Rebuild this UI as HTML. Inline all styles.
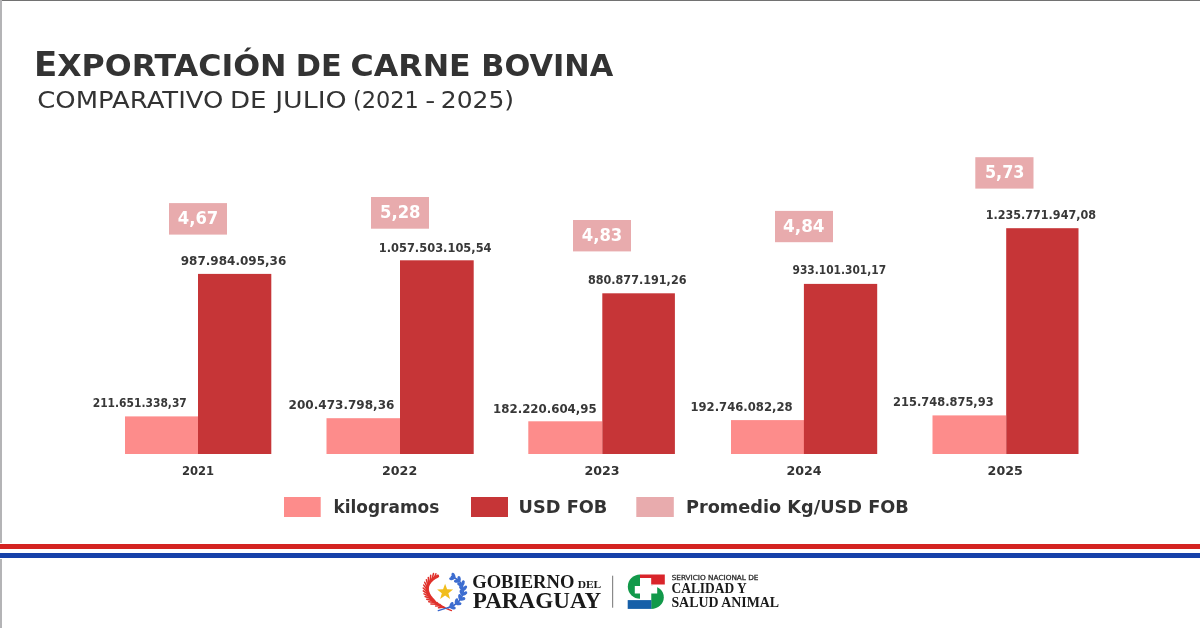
<!DOCTYPE html>
<html lang="es">
<head>
<meta charset="utf-8">
<title>Exportación de carne bovina</title>
<style>
html,body{margin:0;padding:0;background:#fff;}
body{width:1200px;height:628px;overflow:hidden;position:relative;}
svg{display:block;position:absolute;left:0;top:0;}
.t{font-family:"DejaVu Sans","Liberation Sans",sans-serif;}
.v{font-family:"DejaVu Sans","Liberation Sans",sans-serif;font-weight:bold;fill:#383838;font-size:12.4px;}
.y{font-family:"DejaVu Sans","Liberation Sans",sans-serif;font-weight:bold;fill:#333;font-size:12.3px;}
.p{font-family:"DejaVu Sans","Liberation Sans",sans-serif;font-weight:bold;fill:#fff;font-size:18px;}
.l{font-family:"DejaVu Sans","Liberation Sans",sans-serif;font-weight:bold;fill:#333;font-size:17.6px;}
.sr{font-family:"Liberation Serif",serif;font-weight:bold;fill:#1a1a1a;}
</style>
</head>
<body>
<svg width="1200" height="628" viewBox="0 0 1200 628">
  <!-- frame -->
  <rect x="0" y="0" width="1200" height="628" fill="#fff"/>
  <rect x="0" y="0" width="1200" height="1" fill="#727272"/>
  <rect x="0" y="0" width="2" height="628" fill="#b4b4b6"/>

  <!-- title -->
  <g font-family="DejaVu Sans, Liberation Sans, sans-serif" fill="#333">
  <g font-weight="bold" font-size="30.7">
  <text x="33.9" y="75.8" textLength="252.7" lengthAdjust="spacingAndGlyphs"><tspan font-size="33">E</tspan>XPORTACIÓN</text>
  <text x="295.8" y="75.8" textLength="45.9" lengthAdjust="spacingAndGlyphs">DE</text>
  <text x="350.6" y="75.8" textLength="120.1" lengthAdjust="spacingAndGlyphs">CARNE</text>
  <text x="481.3" y="75.8" textLength="131.9" lengthAdjust="spacingAndGlyphs">BOVINA</text>
  </g>
  <g font-size="22.9">
  <text x="37.3" y="107.5" textLength="186.1" lengthAdjust="spacingAndGlyphs">COMPARATIVO</text>
  <text x="230" y="107.5" textLength="36.5" lengthAdjust="spacingAndGlyphs">DE</text>
  <text x="275.2" y="107.5" textLength="71.5" lengthAdjust="spacingAndGlyphs">JULIO</text>
  <text x="352.9" y="107.5" textLength="65.9" lengthAdjust="spacingAndGlyphs">(2021</text>
  <text x="425.2" y="107.5" textLength="10" lengthAdjust="spacingAndGlyphs">-</text>
  <text x="440.8" y="107.5" textLength="73.3" lengthAdjust="spacingAndGlyphs">2025)</text>
  </g>
  </g>

  <!-- bars -->
  <g fill="#fd8c8b">
    <rect x="125" y="416.4" width="73" height="37.6"/>
    <rect x="326.5" y="418.2" width="73.5" height="35.8"/>
    <rect x="528.3" y="421.3" width="74" height="32.7"/>
    <rect x="731" y="420.1" width="73" height="33.9"/>
    <rect x="932.5" y="415.4" width="73.5" height="38.6"/>
  </g>
  <g fill="#c63537">
    <rect x="198" y="273.9" width="73.3" height="180.1"/>
    <rect x="400" y="260.3" width="73.7" height="193.7"/>
    <rect x="602.3" y="293.3" width="72.6" height="160.7"/>
    <rect x="803.9" y="283.9" width="73.3" height="170.1"/>
    <rect x="1006.2" y="228.2" width="72.3" height="225.8"/>
  </g>

  <!-- value labels dark -->
  <text class="v" x="180.7" y="264.8" textLength="105.6" lengthAdjust="spacingAndGlyphs">987.984.095,36</text>
  <text class="v" x="378.7" y="252.1" textLength="112.9" lengthAdjust="spacingAndGlyphs">1.057.503.105,54</text>
  <text class="v" x="587.9" y="284.3" textLength="98.6" lengthAdjust="spacingAndGlyphs">880.877.191,26</text>
  <text class="v" x="792.5" y="274.3" textLength="93.6" lengthAdjust="spacingAndGlyphs">933.101.301,17</text>
  <text class="v" x="985.7" y="219.2" textLength="110.3" lengthAdjust="spacingAndGlyphs">1.235.771.947,08</text>

  <!-- value labels pink -->
  <text class="v" x="92.7" y="406.9" textLength="94.1" lengthAdjust="spacingAndGlyphs">211.651.338,37</text>
  <text class="v" x="288.6" y="408.7" textLength="105.8" lengthAdjust="spacingAndGlyphs">200.473.798,36</text>
  <text class="v" x="493.1" y="412.75" textLength="103.6" lengthAdjust="spacingAndGlyphs">182.220.604,95</text>
  <text class="v" x="690.4" y="411" textLength="102.2" lengthAdjust="spacingAndGlyphs">192.746.082,28</text>
  <text class="v" x="893.1" y="405.9" textLength="100.5" lengthAdjust="spacingAndGlyphs">215.748.875,93</text>

  <!-- promedio boxes -->
  <g fill="#e8abad">
    <rect x="169" y="203.1" width="58" height="31.5"/>
    <rect x="371" y="197" width="58" height="31.7"/>
    <rect x="573" y="220" width="58" height="31.4"/>
    <rect x="775" y="210.9" width="58" height="31.3"/>
    <rect x="975.3" y="157.2" width="58.2" height="31.4"/>
  </g>
  <text class="p" x="198" y="224" text-anchor="middle" textLength="40.5" lengthAdjust="spacingAndGlyphs">4,67</text>
  <text class="p" x="400.3" y="218" text-anchor="middle" textLength="40.5" lengthAdjust="spacingAndGlyphs">5,28</text>
  <text class="p" x="602" y="240.8" text-anchor="middle" textLength="40.5" lengthAdjust="spacingAndGlyphs">4,83</text>
  <text class="p" x="803.8" y="231.5" text-anchor="middle" textLength="41.5" lengthAdjust="spacingAndGlyphs">4,84</text>
  <text class="p" x="1004.7" y="178" text-anchor="middle" textLength="39.5" lengthAdjust="spacingAndGlyphs">5,73</text>

  <!-- years -->
  <text class="y" x="198" y="474.5" text-anchor="middle" textLength="32.2" lengthAdjust="spacingAndGlyphs">2021</text>
  <text class="y" x="399.6" y="474.5" text-anchor="middle" textLength="35.2" lengthAdjust="spacingAndGlyphs">2022</text>
  <text class="y" x="602" y="474.5" text-anchor="middle" textLength="35.2" lengthAdjust="spacingAndGlyphs">2023</text>
  <text class="y" x="804" y="474.5" text-anchor="middle" textLength="35.2" lengthAdjust="spacingAndGlyphs">2024</text>
  <text class="y" x="1005.2" y="474.5" text-anchor="middle" textLength="35.2" lengthAdjust="spacingAndGlyphs">2025</text>

  <!-- legend -->
  <rect x="284" y="497" width="36.7" height="20" fill="#fd8c8b"/>
  <text class="l" x="333.4" y="512.6" textLength="105.9" lengthAdjust="spacingAndGlyphs">kilogramos</text>
  <rect x="471" y="497" width="37" height="20" fill="#c63537"/>
  <text class="l" x="518.6" y="512.8" textLength="88.8" lengthAdjust="spacingAndGlyphs">USD FOB</text>
  <rect x="636.3" y="497" width="37.5" height="20" fill="#e8abad"/>
  <text class="l" x="686" y="512.8" textLength="222.8" lengthAdjust="spacingAndGlyphs">Promedio Kg/USD FOB</text>

  <!-- stripes -->
  <rect x="0" y="543" width="1200" height="16" fill="#fff"/>
  <rect x="0" y="544" width="1200" height="5" fill="#d42321"/>
  <rect x="0" y="553" width="1200" height="5" fill="#1641a9"/>

  <!-- footer: emblem -->
  <!--EMB-->
  <g id="emblem">
    <g fill="none" stroke="#e0312b" stroke-linecap="round"><path d="M444.5 607.8C427 601 420 585 438 575.5" stroke-width="2"/><path d="M443.0 607.2l-4.5 0.6M443.0 607.2l-3.3 -3.0M440.1 605.8l-4.5 0.2M440.1 605.8l-3.1 -3.3M437.4 604.2l-6.5 -0.2M437.4 604.2l-4.0 -5.1M435.1 602.5l-6.4 -0.8M435.1 602.5l-3.5 -5.4M433.0 600.7l-6.3 -1.5M433.0 600.7l-3.0 -5.8M431.2 598.7l-6.1 -2.2M431.2 598.7l-2.3 -6.1M429.8 596.7l-5.8 -2.9M429.8 596.7l-1.5 -6.3M428.6 594.6l-5.3 -3.7M428.6 594.6l-0.6 -6.5M427.9 592.5l-4.7 -4.5M427.9 592.5l0.4 -6.5M427.5 590.3l-3.8 -5.2M427.5 590.3l1.5 -6.3M427.5 588.1l-2.8 -5.9M427.5 588.1l2.7 -5.9M428.0 586.0l-1.6 -6.3M428.0 586.0l3.7 -5.3M428.8 583.9l-0.5 -6.5M428.8 583.9l4.7 -4.5M430.1 581.8l0.6 -6.5M430.1 581.8l5.4 -3.7M431.9 579.8l1.6 -6.3M431.9 579.8l5.9 -2.8M434.2 577.9l1.7 -4.2M434.2 577.9l4.3 -1.4" stroke-width="1.5"/></g>
    <path d="M441,606.3 L451.5,610.6" stroke="#e0312b" stroke-width="1.3" stroke-linecap="round"/>
    <g fill="none" stroke="#3766cc" stroke-linecap="round"><path d="M448.5 607.8C466 601 469 583 451.5 576.5" stroke-width="1.6"/></g>
    <g fill="#3d6dd0"><ellipse cx="452.8" cy="607.6" rx="3" ry="1.7" transform="rotate(16 452.8 607.6)"/><ellipse cx="451.5" cy="604.8" rx="3" ry="1.7" transform="rotate(-66 451.5 604.8)"/><ellipse cx="458.5" cy="603.6" rx="3" ry="1.7" transform="rotate(2 458.5 603.6)"/><ellipse cx="456.5" cy="601.2" rx="3" ry="1.7" transform="rotate(-80 456.5 601.2)"/><ellipse cx="462.4" cy="598.8" rx="3" ry="1.7" transform="rotate(-13 462.4 598.8)"/><ellipse cx="459.9" cy="597.0" rx="3" ry="1.7" transform="rotate(-95 459.9 597.0)"/><ellipse cx="464.6" cy="593.6" rx="3" ry="1.7" transform="rotate(-31 464.6 593.6)"/><ellipse cx="461.6" cy="592.6" rx="3" ry="1.7" transform="rotate(-113 461.6 592.6)"/><ellipse cx="464.7" cy="588.2" rx="3" ry="1.7" transform="rotate(-51 464.7 588.2)"/><ellipse cx="461.6" cy="588.3" rx="3" ry="1.7" transform="rotate(-133 461.6 588.3)"/><ellipse cx="462.9" cy="583.2" rx="3" ry="1.7" transform="rotate(-73 462.9 583.2)"/><ellipse cx="460.0" cy="584.4" rx="3" ry="1.7" transform="rotate(-155 460.0 584.4)"/><ellipse cx="459.1" cy="578.9" rx="3" ry="1.7" transform="rotate(-94 459.1 578.9)"/><ellipse cx="456.9" cy="581.1" rx="3" ry="1.7" transform="rotate(-176 456.9 581.1)"/><ellipse cx="453.5" cy="575.6" rx="3" ry="1.7" transform="rotate(-112 453.5 575.6)"/><ellipse cx="452.1" cy="578.3" rx="3" ry="1.7" transform="rotate(166 452.1 578.3)"/></g>
    <path d="M449.5,607.2 L438.3,610.6" stroke="#3766cc" stroke-width="1.4" stroke-linecap="round"/>
    <polygon points="445.10,583.70 447.12,589.31 453.09,589.50 448.38,593.16 450.04,598.90 445.10,595.54 440.16,598.90 441.82,593.16 437.11,589.50 443.08,589.31" fill="#f1bd1c"/>
  </g>
  <text class="sr" x="472.2" y="587.75" font-size="18.3" textLength="102.2" lengthAdjust="spacingAndGlyphs">GOBIERNO</text>
  <text class="sr" x="577.7" y="587.75" font-size="9.6" textLength="23.6" lengthAdjust="spacingAndGlyphs">DEL</text>
  <text class="sr" x="472.75" y="607.75" font-size="22.9" textLength="128.4" lengthAdjust="spacingAndGlyphs">PARAGUAY</text>
  <rect x="612" y="575.7" width="1.2" height="32" fill="#8a8a8a"/>

  <!-- senacsa logo -->
  <g id="senacsa">
    <path d="M640.1,574.5 A12.3,12.15 0 0,0 640.1,598.8 Z" fill="#12994a"/>
    <path d="M651.2,585.7 A12.6,11.6 0 0,1 651.2,608.9 Z" fill="#12994a"/>
    <path d="M640,574.5 H664.8 V584.6 H651.1 V578 H640 Z" fill="#d9242a"/>
    <rect x="627.7" y="600.1" width="23.6" height="8.8" fill="#165fa8"/>
    <path d="M640,578 H651.1 V586 H657.2 V593.4 H651.1 V600.1 H640 V593.4 H634.8 V586 H640 Z" fill="#fff"/>
  </g>
  <text x="671.7" y="579.8" font-family="DejaVu Sans, sans-serif" font-size="6.9" fill="#2a2a2a" stroke="#2a2a2a" stroke-width="0.28" textLength="86.8" lengthAdjust="spacingAndGlyphs">SERVICIO NACIONAL DE</text>
  <text class="sr" x="671.5" y="592.5" font-size="13.7" textLength="75.2" lengthAdjust="spacingAndGlyphs">CALIDAD Y</text>
  <text class="sr" x="671.4" y="606.5" font-size="13.7" textLength="107.7" lengthAdjust="spacingAndGlyphs">SALUD ANIMAL</text>
</svg>
</body>
</html>
